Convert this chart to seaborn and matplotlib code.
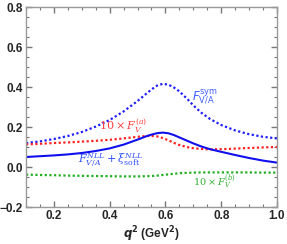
import pandas as pd
import matplotlib
matplotlib.use("Agg")
import matplotlib.pyplot as plt
import seaborn as sns
from matplotlib.ticker import MultipleLocator

# values
q2 = [0.10, 0.15, 0.20, 0.25, 0.30, 0.35, 0.40, 0.45, 0.50, 0.53, 0.55, 0.57,
      0.59, 0.61, 0.63, 0.65, 0.68, 0.70, 0.73, 0.76, 0.80, 0.85, 0.90, 0.95, 1.00]
f_sym = [0.120, 0.128, 0.140, 0.155, 0.175, 0.202, 0.235, 0.278, 0.330, 0.365, 0.388, 0.407,
         0.416, 0.412, 0.398, 0.378, 0.338, 0.308, 0.270, 0.240, 0.210, 0.183, 0.164, 0.151, 0.143]
f_nll = [0.050, 0.054, 0.058, 0.063, 0.070, 0.080, 0.093, 0.112, 0.137, 0.153, 0.162, 0.169,
         0.172, 0.169, 0.160, 0.148, 0.130, 0.118, 0.102, 0.089, 0.076, 0.060, 0.045, 0.032, 0.022]
f_a10 = [0.113, 0.116, 0.120, 0.123, 0.127, 0.131, 0.136, 0.143, 0.151, 0.155, 0.156, 0.153,
         0.145, 0.134, 0.121, 0.110, 0.099, 0.094, 0.090, 0.088, 0.089, 0.092, 0.095, 0.098, 0.100]
f_b10 = [-0.038, -0.040, -0.041, -0.043, -0.044, -0.045, -0.046, -0.047, -0.047, -0.046, -0.045, -0.043,
         -0.040, -0.037, -0.034, -0.031, -0.029, -0.028, -0.027, -0.027, -0.027, -0.027, -0.027, -0.028, -0.028]

df = pd.DataFrame({"q2": q2, "sym": f_sym, "nll": f_nll, "a": f_a10, "b": f_b10})

sns.set_style("ticks")
plt.rcParams["font.family"] = ["Liberation Sans", "DejaVu Sans"]
plt.rcParams["mathtext.fontset"] = "dejavusans"

fig = plt.figure(figsize=(2.87, 2.44), dpi=100)
ax = fig.add_axes([0.0906, 0.1516, 0.8745, 0.8197])

dot = (0, (1.0, 1.1))
sns.lineplot(data=df, x="q2", y="sym", ax=ax, color="#1f1fff", lw=1.6, linestyle=dot)
sns.lineplot(data=df, x="q2", y="a", ax=ax, color="#ff2020", lw=1.6, linestyle=dot)
sns.lineplot(data=df, x="q2", y="b", ax=ax, color="#22b022", lw=1.6, linestyle=dot)
sns.lineplot(data=df, x="q2", y="nll", ax=ax, color="#1010ee", lw=1.5)

ax.set_xlim(0.1, 1.0)
ax.set_ylim(-0.2, 0.8)
ax.set_xticks([0.2, 0.4, 0.6, 0.8, 1.0])
ax.set_xticklabels(["0.2", "0.4", "0.6", "0.8", "1.0"], fontweight="bold", fontsize=8.5)
ax.set_yticks([-0.2, 0.0, 0.2, 0.4, 0.6, 0.8])
ax.set_yticklabels(["\u22120.2", "0.0", "0.2", "0.4", "0.6", "0.8"], fontweight="bold", fontsize=8.5)
ax.xaxis.set_minor_locator(MultipleLocator(0.05))
ax.yaxis.set_minor_locator(MultipleLocator(0.05))
ax.tick_params(which="both", direction="in", top=True, right=True, color="#777777", pad=2)
ax.tick_params(which="major", length=4, width=1.0)
ax.tick_params(which="minor", length=2.5, width=0.8)
for s in ax.spines.values():
    s.set_color("#999999")
    s.set_linewidth(1.0)

ax.set_ylabel("")
ax.set_xlabel(r"$\boldsymbol{q}^\mathbf{2}$ (GeV$^\mathbf{2}$)", fontsize=8.5,
              fontweight="bold", labelpad=2)

ax.text(0.695, 0.335, r"$F^{\mathrm{sym}}_{\mathrm{V/A}}$", color="#4060ff", fontsize=8.5)
ax.text(0.36, 0.185, r"$10\times F_V^{(a)}$", color="#ff4040", fontsize=8,
        math_fontfamily="dejavuserif")
ax.text(0.285, 0.022, r"$F^{NLL}_{V/A}+\xi^{NLL}_{\mathrm{soft}}$", color="#3050ff",
        fontsize=8, math_fontfamily="dejavuserif")
ax.text(0.70, -0.09, r"$10\times F_V^{(b)}$", color="#30b030", fontsize=7,
        math_fontfamily="dejavuserif")

fig.savefig("out.png", dpi=100)
